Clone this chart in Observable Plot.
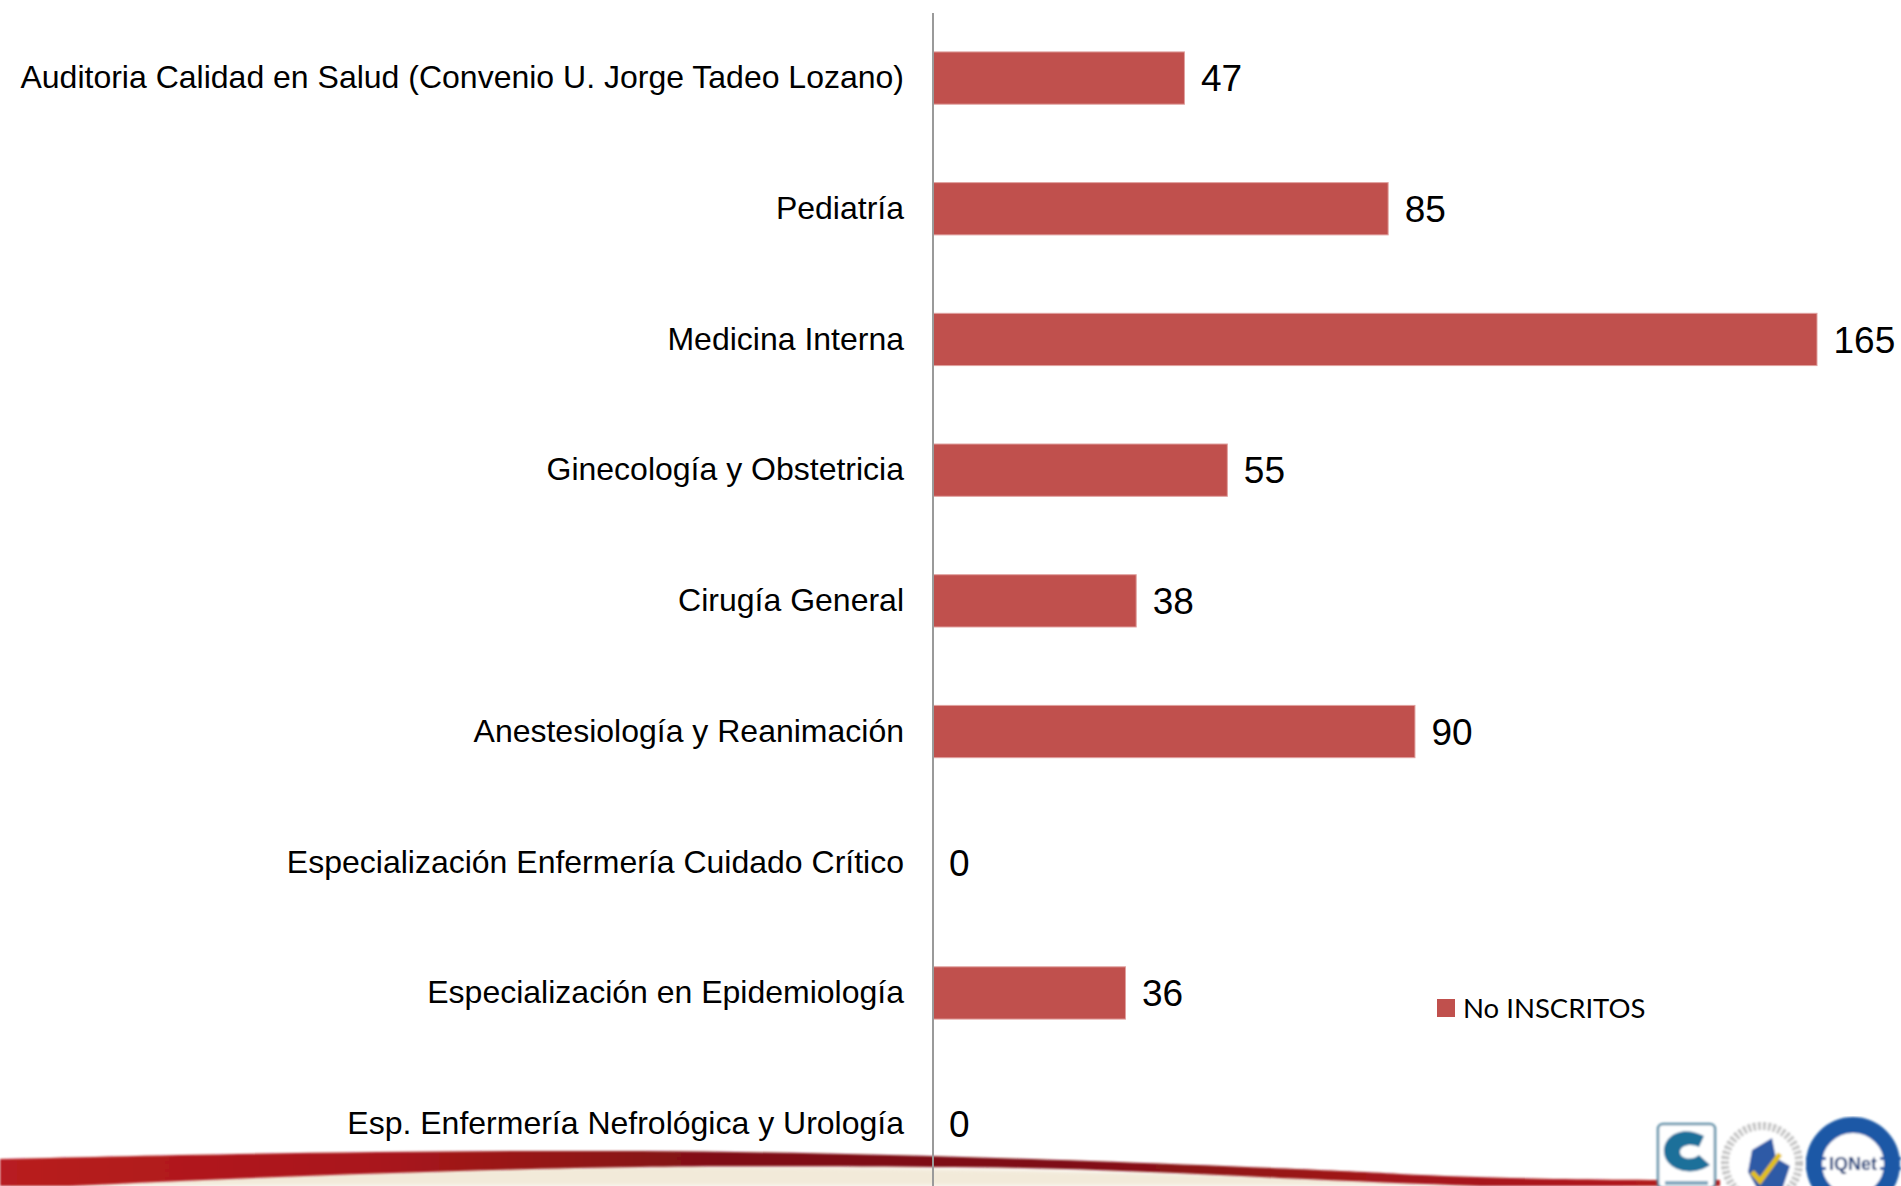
<!DOCTYPE html>
<html><head><meta charset="utf-8">
<script src="https://cdn.jsdelivr.net/npm/d3@7"></script>
<script src="https://cdn.jsdelivr.net/npm/@observablehq/plot@0.6"></script>
<style>
html,body{margin:0;padding:0;background:#fff;overflow:hidden}
#stage{position:relative;width:1901px;height:1186px;overflow:hidden}
#deco,#chart{position:absolute;left:0;top:0}
#chart svg{background:transparent}
</style></head><body>
<div id="stage">
<svg id="deco" width="1901" height="1186" viewBox="0 0 1901 1186">
  <defs>
    <linearGradient id="sw" x1="0" x2="1" y1="0" y2="0">
      <stop offset="0" stop-color="#b81c20"/><stop offset="0.22" stop-color="#a9171b"/>
      <stop offset="0.42" stop-color="#801114"/><stop offset="0.62" stop-color="#7f1013"/><stop offset="0.8" stop-color="#a3161a"/><stop offset="1" stop-color="#b51b1f"/>
    </linearGradient>
    <filter id="b1"><feGaussianBlur stdDeviation="1"/></filter>
    <filter id="b2"><feGaussianBlur stdDeviation="0.9"/></filter>
    <filter id="b3"><feGaussianBlur stdDeviation="2"/></filter>
  </defs>
  <path d="M60 1186C200 1176 420 1167 640 1166C900 1166 1120 1172 1280 1176C1400 1182 1480 1186 1560 1186Z" fill="#f2ead9" filter="url(#b3)"/>
  <path d="M0 1159C120 1156 380 1150 640 1151C800 1152 932 1156 1090 1161C1200 1165 1330 1170 1400 1174C1480 1178 1580 1180 1720 1180L1720 1186H1480C1420 1184 1350 1181 1280 1178C1160 1172 1040 1167 932 1167C800 1166 700 1166 640 1167C480 1169 250 1177 70 1186H0Z" fill="url(#sw)" filter="url(#b1)"/>
  <g filter="url(#b2)">
    <rect x="1658" y="1124" width="57" height="64" rx="5" fill="#fff" stroke="#5d8fa8" stroke-width="2.5"/>
    <path d="M1704 1136C1682 1124 1663 1136 1664 1152C1665 1170 1692 1178 1710 1165L1699 1155C1692 1161 1680 1159 1680 1152C1680 1145 1692 1143 1699 1147Z" fill="#1f6f9a"/>
    <rect x="1665" y="1181" width="43" height="4" fill="#7fa6bd"/>
    <circle cx="1762" cy="1163" r="37" fill="#fff" stroke="#c4c4c4" stroke-width="8" stroke-dasharray="3 2"/>
    <path d="M1772 1138L1752 1150L1748 1172L1758 1190H1782L1790 1166L1776 1158Z" fill="#2f5aa6"/>
    <path d="M1752 1172L1760 1181L1780 1154" fill="none" stroke="#e3c01f" stroke-width="5"/>
    <circle cx="1853" cy="1164" r="39" fill="#fff" stroke="#1d59a6" stroke-width="16"/>
    <rect x="1806" y="1157" width="20" height="3" fill="#1d59a6"/><rect x="1806" y="1167" width="20" height="3" fill="#1d59a6"/>
    <rect x="1880" y="1157" width="21" height="3" fill="#1d59a6"/><rect x="1880" y="1167" width="21" height="3" fill="#1d59a6"/>
    <rect x="1826" y="1151" width="54" height="24" fill="#fff"/>
    <text x="1829" y="1170" font-family="Liberation Sans" font-weight="700" font-size="18" fill="#1d3f7a">IQNet</text>
  </g>
</svg>
<div id="chart"></div>
</div>
<script>
const categories = [
  "Auditoria Calidad en Salud (Convenio U. Jorge Tadeo Lozano)",
  "Pediatría",
  "Medicina Interna",
  "Ginecología y Obstetricia",
  "Cirugía General",
  "Anestesiología y Reanimación",
  "Especialización Enfermería Cuidado Crítico",
  "Especialización en Epidemiología",
  "Esp. Enfermería Nefrológica y Urología"
];
const values = [47, 85, 165, 55, 38, 90, 0, 36, 0];
const seriesName = "No INSCRITOS";
const barColor = "#c0504d";
const table = categories.map((c, i) => ({category: c, value: values[i]}));

const chart = Plot.plot({
  width: 1901,
  height: 1186,
  margin: 0,
  style: {background: "transparent", fontFamily: "'Liberation Sans', Arial, sans-serif"},
  x: {type: "linear", domain: [0, 165], range: [932.5, 1817], axis: null},
  y: {domain: categories, range: [12.7, 1189], paddingInner: 0.6, paddingOuter: 0.3, round: false, axis: null},
  marks: [
    Plot.barX(table.filter(d => d.value > 0), {x: "value", y: "category", fill: barColor, stroke: "#e0a19f", strokeWidth: 1}),
    Plot.ruleX([0], {insetTop: 13, stroke: "#9a9a9a", strokeWidth: 2}),
    Plot.text(table, {x: 0, y: "category", text: "category", textAnchor: "end", dx: -29, dy: -0.5, fontSize: 32, fill: "#000"}),
    Plot.text(table, {x: "value", y: "category", text: d => String(d.value), textAnchor: "start", dx: 16, dy: 1, fontSize: 37, fill: "#000"})
  ]
});
document.getElementById("chart").append(chart);

// legend
const legend = document.createElement("div");
legend.style.cssText = "position:absolute;left:1437px;top:991px;display:flex;align-items:center;font-family:Lato,sans-serif;font-size:27.5px;color:#000;white-space:nowrap";
const swatch = document.createElement("span");
swatch.style.cssText = `display:inline-block;width:18px;height:18px;background:${barColor};margin-right:8px`;
legend.append(swatch, document.createTextNode(seriesName));
document.getElementById("stage").append(legend);
</script>
</body></html>
